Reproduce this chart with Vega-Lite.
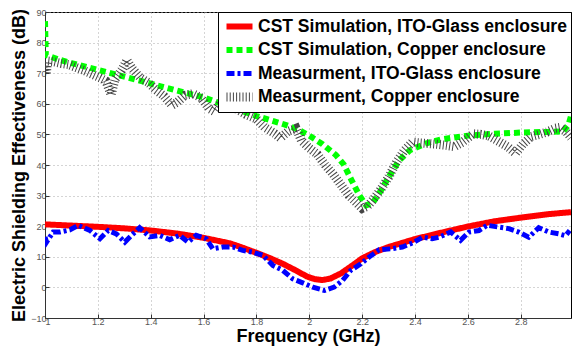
{
  "$schema": "https://vega.github.io/schema/vega-lite/v6.json",
  "width": 526,
  "height": 306,
  "autosize": {"type": "none"},
  "padding": {"left": 45, "top": 12, "right": 1, "bottom": 34},
  "background": "white",
  "config": {
    "view": {"stroke": "#000", "strokeWidth": 1},
    "font": "Liberation Sans",
    "axis": {
      "labelFont": "Liberation Sans",
      "labelFontSize": 9,
      "labelColor": "#555",
      "domainColor": "#333",
      "tickColor": "#333",
      "tickSize": -4,
      "gridColor": "#aaa",
      "gridDash": [1, 3],
      "gridWidth": 1,
      "titleFont": "Liberation Sans",
      "titleFontSize": 18,
      "titleFontWeight": "bold",
      "titleColor": "#000"
    }
  },
  "data": {
    "values": [
      {"f": 1.0, "se": 20.6, "s": "CST Simulation, ITO-Glass enclosure"},
      {"f": 1.1, "se": 20.2, "s": "CST Simulation, ITO-Glass enclosure"},
      {"f": 1.2, "se": 19.8, "s": "CST Simulation, ITO-Glass enclosure"},
      {"f": 1.3, "se": 19.3, "s": "CST Simulation, ITO-Glass enclosure"},
      {"f": 1.4, "se": 18.6, "s": "CST Simulation, ITO-Glass enclosure"},
      {"f": 1.5, "se": 17.6, "s": "CST Simulation, ITO-Glass enclosure"},
      {"f": 1.6, "se": 16.2, "s": "CST Simulation, ITO-Glass enclosure"},
      {"f": 1.7, "se": 14.4, "s": "CST Simulation, ITO-Glass enclosure"},
      {"f": 1.75, "se": 12.9, "s": "CST Simulation, ITO-Glass enclosure"},
      {"f": 1.8, "se": 11.3, "s": "CST Simulation, ITO-Glass enclosure"},
      {"f": 1.85, "se": 9.6, "s": "CST Simulation, ITO-Glass enclosure"},
      {"f": 1.9, "se": 7.7, "s": "CST Simulation, ITO-Glass enclosure"},
      {"f": 1.95, "se": 5.5, "s": "CST Simulation, ITO-Glass enclosure"},
      {"f": 1.99, "se": 3.6, "s": "CST Simulation, ITO-Glass enclosure"},
      {"f": 2.02, "se": 2.7, "s": "CST Simulation, ITO-Glass enclosure"},
      {"f": 2.05, "se": 2.4, "s": "CST Simulation, ITO-Glass enclosure"},
      {"f": 2.08, "se": 2.9, "s": "CST Simulation, ITO-Glass enclosure"},
      {"f": 2.12, "se": 4.6, "s": "CST Simulation, ITO-Glass enclosure"},
      {"f": 2.16, "se": 7.0, "s": "CST Simulation, ITO-Glass enclosure"},
      {"f": 2.2, "se": 9.5, "s": "CST Simulation, ITO-Glass enclosure"},
      {"f": 2.25, "se": 11.6, "s": "CST Simulation, ITO-Glass enclosure"},
      {"f": 2.3, "se": 13.2, "s": "CST Simulation, ITO-Glass enclosure"},
      {"f": 2.4, "se": 15.8, "s": "CST Simulation, ITO-Glass enclosure"},
      {"f": 2.5, "se": 17.9, "s": "CST Simulation, ITO-Glass enclosure"},
      {"f": 2.6, "se": 19.9, "s": "CST Simulation, ITO-Glass enclosure"},
      {"f": 2.7, "se": 21.6, "s": "CST Simulation, ITO-Glass enclosure"},
      {"f": 2.8, "se": 22.8, "s": "CST Simulation, ITO-Glass enclosure"},
      {"f": 2.9, "se": 23.9, "s": "CST Simulation, ITO-Glass enclosure"},
      {"f": 2.99, "se": 24.6, "s": "CST Simulation, ITO-Glass enclosure"},

      {"f": 1.0, "se": 87, "s": "CST Simulation, Copper enclosure"},
      {"f": 1.003, "se": 76, "s": "CST Simulation, Copper enclosure"},
      {"f": 1.05, "se": 74.5, "s": "CST Simulation, Copper enclosure"},
      {"f": 1.1, "se": 73.3, "s": "CST Simulation, Copper enclosure"},
      {"f": 1.2, "se": 71.1, "s": "CST Simulation, Copper enclosure"},
      {"f": 1.3, "se": 68.9, "s": "CST Simulation, Copper enclosure"},
      {"f": 1.4, "se": 66.6, "s": "CST Simulation, Copper enclosure"},
      {"f": 1.5, "se": 64.3, "s": "CST Simulation, Copper enclosure"},
      {"f": 1.6, "se": 62.1, "s": "CST Simulation, Copper enclosure"},
      {"f": 1.7, "se": 59.0, "s": "CST Simulation, Copper enclosure"},
      {"f": 1.8, "se": 56.0, "s": "CST Simulation, Copper enclosure"},
      {"f": 1.9, "se": 53.4, "s": "CST Simulation, Copper enclosure"},
      {"f": 1.95, "se": 51.9, "s": "CST Simulation, Copper enclosure"},
      {"f": 2.0, "se": 49.6, "s": "CST Simulation, Copper enclosure"},
      {"f": 2.05, "se": 46.8, "s": "CST Simulation, Copper enclosure"},
      {"f": 2.1, "se": 43.3, "s": "CST Simulation, Copper enclosure"},
      {"f": 2.13, "se": 40.2, "s": "CST Simulation, Copper enclosure"},
      {"f": 2.16, "se": 35.0, "s": "CST Simulation, Copper enclosure"},
      {"f": 2.19, "se": 30.0, "s": "CST Simulation, Copper enclosure"},
      {"f": 2.215, "se": 26.8, "s": "CST Simulation, Copper enclosure"},
      {"f": 2.24, "se": 27.6, "s": "CST Simulation, Copper enclosure"},
      {"f": 2.27, "se": 31.5, "s": "CST Simulation, Copper enclosure"},
      {"f": 2.3, "se": 36.0, "s": "CST Simulation, Copper enclosure"},
      {"f": 2.34, "se": 41.5, "s": "CST Simulation, Copper enclosure"},
      {"f": 2.38, "se": 44.8, "s": "CST Simulation, Copper enclosure"},
      {"f": 2.44, "se": 47.0, "s": "CST Simulation, Copper enclosure"},
      {"f": 2.5, "se": 48.4, "s": "CST Simulation, Copper enclosure"},
      {"f": 2.6, "se": 49.6, "s": "CST Simulation, Copper enclosure"},
      {"f": 2.7, "se": 50.2, "s": "CST Simulation, Copper enclosure"},
      {"f": 2.8, "se": 50.6, "s": "CST Simulation, Copper enclosure"},
      {"f": 2.9, "se": 50.8, "s": "CST Simulation, Copper enclosure"},
      {"f": 2.96, "se": 51.0, "s": "CST Simulation, Copper enclosure"},
      {"f": 2.98, "se": 53.0, "s": "CST Simulation, Copper enclosure"},
      {"f": 2.99, "se": 56.0, "s": "CST Simulation, Copper enclosure"},

      {"f": 1.0, "se": 16.5, "s": "Measurment, ITO-Glass enclosure"},
      {"f": 1.006, "se": 14.8, "s": "Measurment, ITO-Glass enclosure"},
      {"f": 1.031, "se": 18.1, "s": "Measurment, ITO-Glass enclosure"},
      {"f": 1.057, "se": 18.1, "s": "Measurment, ITO-Glass enclosure"},
      {"f": 1.094, "se": 18.8, "s": "Measurment, ITO-Glass enclosure"},
      {"f": 1.126, "se": 20.3, "s": "Measurment, ITO-Glass enclosure"},
      {"f": 1.17, "se": 18.6, "s": "Measurment, ITO-Glass enclosure"},
      {"f": 1.208, "se": 15.9, "s": "Measurment, ITO-Glass enclosure"},
      {"f": 1.239, "se": 18.6, "s": "Measurment, ITO-Glass enclosure"},
      {"f": 1.27, "se": 17.5, "s": "Measurment, ITO-Glass enclosure"},
      {"f": 1.302, "se": 14.8, "s": "Measurment, ITO-Glass enclosure"},
      {"f": 1.327, "se": 17.0, "s": "Measurment, ITO-Glass enclosure"},
      {"f": 1.358, "se": 19.5, "s": "Measurment, ITO-Glass enclosure"},
      {"f": 1.396, "se": 16.5, "s": "Measurment, ITO-Glass enclosure"},
      {"f": 1.434, "se": 17.0, "s": "Measurment, ITO-Glass enclosure"},
      {"f": 1.472, "se": 15.6, "s": "Measurment, ITO-Glass enclosure"},
      {"f": 1.509, "se": 17.0, "s": "Measurment, ITO-Glass enclosure"},
      {"f": 1.541, "se": 14.8, "s": "Measurment, ITO-Glass enclosure"},
      {"f": 1.572, "se": 17.0, "s": "Measurment, ITO-Glass enclosure"},
      {"f": 1.61, "se": 15.9, "s": "Measurment, ITO-Glass enclosure"},
      {"f": 1.635, "se": 12.6, "s": "Measurment, ITO-Glass enclosure"},
      {"f": 1.673, "se": 13.2, "s": "Measurment, ITO-Glass enclosure"},
      {"f": 1.711, "se": 13.2, "s": "Measurment, ITO-Glass enclosure"},
      {"f": 1.748, "se": 12.1, "s": "Measurment, ITO-Glass enclosure"},
      {"f": 1.786, "se": 11.5, "s": "Measurment, ITO-Glass enclosure"},
      {"f": 1.824, "se": 10.5, "s": "Measurment, ITO-Glass enclosure"},
      {"f": 1.862, "se": 7.2, "s": "Measurment, ITO-Glass enclosure"},
      {"f": 1.899, "se": 5.6, "s": "Measurment, ITO-Glass enclosure"},
      {"f": 1.937, "se": 2.8, "s": "Measurment, ITO-Glass enclosure"},
      {"f": 1.975, "se": 1.5, "s": "Measurment, ITO-Glass enclosure"},
      {"f": 2.013, "se": 0.1, "s": "Measurment, ITO-Glass enclosure"},
      {"f": 2.057, "se": -1.0, "s": "Measurment, ITO-Glass enclosure"},
      {"f": 2.094, "se": 0.1, "s": "Measurment, ITO-Glass enclosure"},
      {"f": 2.126, "se": 2.3, "s": "Measurment, ITO-Glass enclosure"},
      {"f": 2.157, "se": 5.6, "s": "Measurment, ITO-Glass enclosure"},
      {"f": 2.195, "se": 7.7, "s": "Measurment, ITO-Glass enclosure"},
      {"f": 2.226, "se": 9.9, "s": "Measurment, ITO-Glass enclosure"},
      {"f": 2.264, "se": 12.3, "s": "Measurment, ITO-Glass enclosure"},
      {"f": 2.308, "se": 12.6, "s": "Measurment, ITO-Glass enclosure"},
      {"f": 2.352, "se": 13.2, "s": "Measurment, ITO-Glass enclosure"},
      {"f": 2.39, "se": 14.5, "s": "Measurment, ITO-Glass enclosure"},
      {"f": 2.428, "se": 16.4, "s": "Measurment, ITO-Glass enclosure"},
      {"f": 2.465, "se": 15.9, "s": "Measurment, ITO-Glass enclosure"},
      {"f": 2.491, "se": 16.4, "s": "Measurment, ITO-Glass enclosure"},
      {"f": 2.535, "se": 18.1, "s": "Measurment, ITO-Glass enclosure"},
      {"f": 2.572, "se": 15.4, "s": "Measurment, ITO-Glass enclosure"},
      {"f": 2.604, "se": 18.1, "s": "Measurment, ITO-Glass enclosure"},
      {"f": 2.642, "se": 18.6, "s": "Measurment, ITO-Glass enclosure"},
      {"f": 2.673, "se": 20.3, "s": "Measurment, ITO-Glass enclosure"},
      {"f": 2.717, "se": 19.7, "s": "Measurment, ITO-Glass enclosure"},
      {"f": 2.755, "se": 19.2, "s": "Measurment, ITO-Glass enclosure"},
      {"f": 2.792, "se": 18.1, "s": "Measurment, ITO-Glass enclosure"},
      {"f": 2.83, "se": 16.4, "s": "Measurment, ITO-Glass enclosure"},
      {"f": 2.868, "se": 19.5, "s": "Measurment, ITO-Glass enclosure"},
      {"f": 2.906, "se": 18.1, "s": "Measurment, ITO-Glass enclosure"},
      {"f": 2.943, "se": 17.5, "s": "Measurment, ITO-Glass enclosure"},
      {"f": 2.969, "se": 16.9, "s": "Measurment, ITO-Glass enclosure"},
      {"f": 2.985, "se": 18.6, "s": "Measurment, ITO-Glass enclosure"},

      {"f": 1.0, "se": 72.0, "s": "Measurment, Copper enclosure"},
      {"f": 1.005, "se": 70.0, "s": "Measurment, Copper enclosure"},
      {"f": 1.01, "se": 74.0, "s": "Measurment, Copper enclosure"},
      {"f": 1.03, "se": 73.8, "s": "Measurment, Copper enclosure"},
      {"f": 1.06, "se": 73.2, "s": "Measurment, Copper enclosure"},
      {"f": 1.09, "se": 72.8, "s": "Measurment, Copper enclosure"},
      {"f": 1.12, "se": 71.8, "s": "Measurment, Copper enclosure"},
      {"f": 1.15, "se": 70.8, "s": "Measurment, Copper enclosure"},
      {"f": 1.18, "se": 69.6, "s": "Measurment, Copper enclosure"},
      {"f": 1.21, "se": 68.4, "s": "Measurment, Copper enclosure"},
      {"f": 1.23, "se": 67.5, "s": "Measurment, Copper enclosure"},
      {"f": 1.25, "se": 63.0, "s": "Measurment, Copper enclosure"},
      {"f": 1.265, "se": 68.0, "s": "Measurment, Copper enclosure"},
      {"f": 1.29, "se": 71.0, "s": "Measurment, Copper enclosure"},
      {"f": 1.31, "se": 74.2, "s": "Measurment, Copper enclosure"},
      {"f": 1.33, "se": 71.5, "s": "Measurment, Copper enclosure"},
      {"f": 1.36, "se": 68.5, "s": "Measurment, Copper enclosure"},
      {"f": 1.39, "se": 67.0, "s": "Measurment, Copper enclosure"},
      {"f": 1.42, "se": 64.5, "s": "Measurment, Copper enclosure"},
      {"f": 1.45, "se": 62.5, "s": "Measurment, Copper enclosure"},
      {"f": 1.48, "se": 59.5, "s": "Measurment, Copper enclosure"},
      {"f": 1.5, "se": 60.5, "s": "Measurment, Copper enclosure"},
      {"f": 1.53, "se": 62.8, "s": "Measurment, Copper enclosure"},
      {"f": 1.56, "se": 63.3, "s": "Measurment, Copper enclosure"},
      {"f": 1.59, "se": 62.0, "s": "Measurment, Copper enclosure"},
      {"f": 1.62, "se": 58.5, "s": "Measurment, Copper enclosure"},
      {"f": 1.64, "se": 57.5, "s": "Measurment, Copper enclosure"},
      {"f": 1.67, "se": 61.0, "s": "Measurment, Copper enclosure"},
      {"f": 1.7, "se": 60.0, "s": "Measurment, Copper enclosure"},
      {"f": 1.73, "se": 58.0, "s": "Measurment, Copper enclosure"},
      {"f": 1.76, "se": 56.5, "s": "Measurment, Copper enclosure"},
      {"f": 1.8, "se": 55.0, "s": "Measurment, Copper enclosure"},
      {"f": 1.83, "se": 52.4, "s": "Measurment, Copper enclosure"},
      {"f": 1.87, "se": 50.2, "s": "Measurment, Copper enclosure"},
      {"f": 1.89, "se": 48.8, "s": "Measurment, Copper enclosure"},
      {"f": 1.92, "se": 51.0, "s": "Measurment, Copper enclosure"},
      {"f": 1.95, "se": 52.0, "s": "Measurment, Copper enclosure"},
      {"f": 1.97, "se": 48.0, "s": "Measurment, Copper enclosure"},
      {"f": 2.0, "se": 45.5, "s": "Measurment, Copper enclosure"},
      {"f": 2.03, "se": 43.5, "s": "Measurment, Copper enclosure"},
      {"f": 2.06, "se": 40.0, "s": "Measurment, Copper enclosure"},
      {"f": 2.09, "se": 37.0, "s": "Measurment, Copper enclosure"},
      {"f": 2.12, "se": 33.5, "s": "Measurment, Copper enclosure"},
      {"f": 2.15, "se": 30.0, "s": "Measurment, Copper enclosure"},
      {"f": 2.18, "se": 27.5, "s": "Measurment, Copper enclosure"},
      {"f": 2.2, "se": 25.8, "s": "Measurment, Copper enclosure"},
      {"f": 2.22, "se": 26.5, "s": "Measurment, Copper enclosure"},
      {"f": 2.24, "se": 28.5, "s": "Measurment, Copper enclosure"},
      {"f": 2.27, "se": 32.0, "s": "Measurment, Copper enclosure"},
      {"f": 2.3, "se": 36.0, "s": "Measurment, Copper enclosure"},
      {"f": 2.33, "se": 41.0, "s": "Measurment, Copper enclosure"},
      {"f": 2.36, "se": 44.8, "s": "Measurment, Copper enclosure"},
      {"f": 2.39, "se": 47.5, "s": "Measurment, Copper enclosure"},
      {"f": 2.42, "se": 47.2, "s": "Measurment, Copper enclosure"},
      {"f": 2.45, "se": 47.0, "s": "Measurment, Copper enclosure"},
      {"f": 2.48, "se": 46.8, "s": "Measurment, Copper enclosure"},
      {"f": 2.52, "se": 46.4, "s": "Measurment, Copper enclosure"},
      {"f": 2.55, "se": 46.0, "s": "Measurment, Copper enclosure"},
      {"f": 2.58, "se": 47.5, "s": "Measurment, Copper enclosure"},
      {"f": 2.62, "se": 50.2, "s": "Measurment, Copper enclosure"},
      {"f": 2.65, "se": 50.0, "s": "Measurment, Copper enclosure"},
      {"f": 2.68, "se": 49.5, "s": "Measurment, Copper enclosure"},
      {"f": 2.72, "se": 47.5, "s": "Measurment, Copper enclosure"},
      {"f": 2.75, "se": 46.0, "s": "Measurment, Copper enclosure"},
      {"f": 2.78, "se": 43.8, "s": "Measurment, Copper enclosure"},
      {"f": 2.81, "se": 47.0, "s": "Measurment, Copper enclosure"},
      {"f": 2.84, "se": 49.3, "s": "Measurment, Copper enclosure"},
      {"f": 2.87, "se": 50.0, "s": "Measurment, Copper enclosure"},
      {"f": 2.9, "se": 50.8, "s": "Measurment, Copper enclosure"},
      {"f": 2.93, "se": 52.0, "s": "Measurment, Copper enclosure"},
      {"f": 2.95, "se": 52.3, "s": "Measurment, Copper enclosure"},
      {"f": 2.97, "se": 51.0, "s": "Measurment, Copper enclosure"},
      {"f": 2.99, "se": 49.0, "s": "Measurment, Copper enclosure"}
    ]
  },
  "mark": {"type": "line", "clip": true, "strokeCap": "butt", "strokeJoin": "miter"},
  "encoding": {
    "x": {
      "field": "f", "type": "quantitative",
      "scale": {"domain": [1, 2.99], "nice": false, "zero": false},
      "axis": {"values": [1, 1.2, 1.4, 1.6, 1.8, 2, 2.2, 2.4, 2.6, 2.8], "format": "~g", "title": "Frequency (GHz)", "labelPadding": 3, "titlePadding": 1}
    },
    "y": {
      "field": "se", "type": "quantitative",
      "scale": {"domain": [-10, 90], "nice": false, "zero": false},
      "axis": {"values": [-10, 0, 10, 20, 30, 40, 50, 60, 70, 80, 90], "title": "Electric Shielding Effectiveness (dB)", "labelPadding": 3, "titlePadding": 2}
    },
    "order": {"field": "f", "type": "quantitative"},
    "color": {
      "field": "s", "type": "nominal",
      "scale": {
        "domain": ["CST Simulation, ITO-Glass enclosure", "CST Simulation, Copper enclosure", "Measurment, ITO-Glass enclosure", "Measurment, Copper enclosure"],
        "range": ["#ff0000", "#00ff00", "#0000ff", "#444444"]
      },
      "legend": {
        "title": null,
        "orient": "top-right",
        "offset": 0,
        "padding": 4,
        "fillColor": "white",
        "strokeColor": "#000",
        "labelFont": "Liberation Sans",
        "labelFontSize": 17.5,
        "labelFontWeight": "bold",
        "labelColor": "#000",
        "labelOffset": 1,
        "labelLimit": 400,
        "symbolType": "stroke",
        "symbolSize": 676,
        "symbolStrokeWidth": 5,
        "clipHeight": 21,
        "rowPadding": 2.5,
        "encode": {
          "symbols": {
            "update": {
              "strokeWidth": {"signal": "datum.value === 'Measurment, Copper enclosure' ? 9 : (datum.value === 'Measurment, ITO-Glass enclosure' ? 5 : 6)"}
            }
          }
        }
      }
    },
    "strokeDash": {
      "field": "s", "type": "nominal",
      "scale": {
        "domain": ["CST Simulation, ITO-Glass enclosure", "CST Simulation, Copper enclosure", "Measurment, ITO-Glass enclosure", "Measurment, Copper enclosure"],
        "range": [[1, 0], [6, 4], [8, 3, 3, 3], [1, 2.2]]
      },
      "legend": {
        "title": null
      }
    },
    "strokeWidth": {
      "field": "s", "type": "nominal",
      "scale": {
        "type": "ordinal",
        "domain": ["CST Simulation, ITO-Glass enclosure", "CST Simulation, Copper enclosure", "Measurment, ITO-Glass enclosure", "Measurment, Copper enclosure"],
        "range": [6, 6, 5, 9]
      },
      "legend": null
    }
  }
}
